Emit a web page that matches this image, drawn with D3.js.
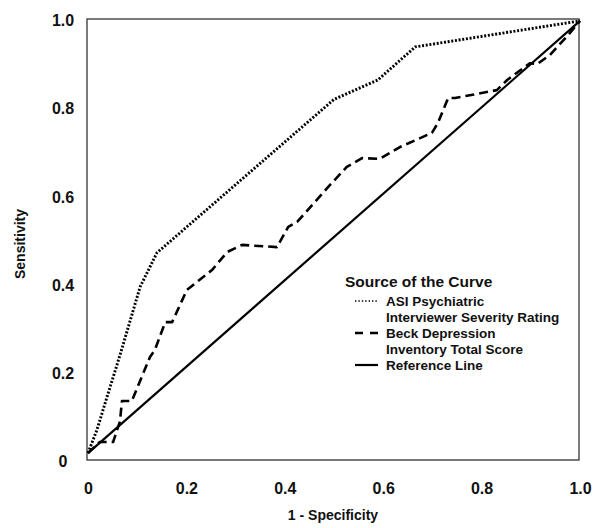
<!DOCTYPE html>
<html>
<head>
<meta charset="utf-8">
<script src="https://cdn.jsdelivr.net/npm/d3@7"></script>
<style>
  html, body { margin: 0; padding: 0; background: #fff; }
  svg text { font-family: "Liberation Sans", Arial, Helvetica, sans-serif; font-weight: bold; fill: #111; }
</style>
</head>
<body>
<svg id="chart" width="600" height="528"></svg>
<script>
// ---- data ----
const tickValues = [0, 0.2, 0.4, 0.6, 0.8, 1.0];
const tickLabels = ["0", "0.2", "0.4", "0.6", "0.8", "1.0"];

// ASI Psychiatric Interviewer Severity Rating  (1 - specificity, sensitivity)
const asiX = [0, 0.018, 0.04, 0.065, 0.106, 0.14, 0.5, 0.589, 0.665, 1.0];
const asiY = [0.018, 0.07, 0.15, 0.24, 0.395, 0.472, 0.82, 0.864, 0.939, 0.998];

// Beck Depression Inventory Total Score
const beckX = [0, 0.024, 0.051, 0.065, 0.069, 0.089, 0.126, 0.136, 0.157, 0.171, 0.201, 0.252, 0.283, 0.313, 0.384, 0.407, 0.425, 0.492, 0.526, 0.557, 0.593, 0.634, 0.699, 0.711, 0.732, 0.746, 0.831, 0.852, 0.898, 0.913, 0.939, 0.976, 1.0];
const beckY = [0.018, 0.043, 0.043, 0.09, 0.136, 0.136, 0.236, 0.252, 0.315, 0.315, 0.388, 0.433, 0.474, 0.49, 0.485, 0.531, 0.542, 0.626, 0.667, 0.687, 0.685, 0.712, 0.744, 0.766, 0.823, 0.823, 0.841, 0.864, 0.902, 0.9, 0.921, 0.966, 0.998];

// Reference line
const refX = [0, 1.0];
const refY = [0.018, 0.998];

const legendTitle = "Source of the Curve";
const legendItems = [
  { lines: ["ASI Psychiatric", "Interviewer Severity Rating"], style: "dotted" },
  { lines: ["Beck Depression", "Inventory Total Score"], style: "dashed" },
  { lines: ["Reference Line"], style: "solid" }
];
const xTitle = "1 - Specificity";
const yTitle = "Sensitivity";

// ---- drawing ----
const svg = d3.select("#chart");
const x = d3.scaleLinear().domain([0, 1]).range([88, 580]);
const y = d3.scaleLinear().domain([0, 1]).range([461, 20]);

const styles = {
  dotted: { width: 2.9, dash: "2,1.7", cap: "butt" },
  dashed: { width: 2.6, dash: "9,5", cap: "butt" },
  solid:  { width: 2.2, dash: null, cap: "butt" }
};

// frame
svg.append("rect")
  .attr("x", 87).attr("y", 19)
  .attr("width", 492).attr("height", 441)
  .attr("fill", "none").attr("stroke", "#333").attr("stroke-width", 1.3);

// axes (labels only)
const xAxis = d3.axisBottom(x).tickValues(tickValues)
  .tickFormat((d, i) => tickLabels[i]).tickSize(0).tickPadding(0);
const gx = svg.append("g").attr("transform", "translate(0,460)").call(xAxis);
gx.select(".domain").remove();
gx.selectAll("text").attr("y", 34).attr("dy", null)
  .style("font-size", "16px").style("font-family", "'Liberation Sans', Arial, sans-serif")
  .style("font-weight", "bold").attr("fill", "#111");

const yAxis = d3.axisLeft(y).tickValues(tickValues)
  .tickFormat((d, i) => tickLabels[i]).tickSize(0).tickPadding(0);
const gy = svg.append("g").attr("transform", "translate(87,0)").call(yAxis);
gy.select(".domain").remove();
gy.selectAll("text").attr("x", -24).attr("text-anchor", "middle").attr("dy", "0.36em")
  .style("font-size", "16px").style("font-family", "'Liberation Sans', Arial, sans-serif")
  .style("font-weight", "bold").attr("fill", "#111");

// axis titles
svg.append("text").attr("x", 333).attr("y", 520).attr("text-anchor", "middle")
  .style("font-size", "14px").text(xTitle);
svg.append("text").attr("transform", "translate(25,244) rotate(-90)")
  .attr("text-anchor", "middle").style("font-size", "14px").text(yTitle);

// curves
const line = d3.line().x(d => x(d[0])).y(d => y(d[1]));
function drawCurve(xs, ys, st) {
  const s = styles[st];
  const p = svg.append("path")
    .datum(xs.map((v, i) => [v, ys[i]]))
    .attr("d", line)
    .attr("fill", "none").attr("stroke", "#000")
    .attr("stroke-width", s.width).attr("stroke-linecap", s.cap)
    .attr("stroke-linejoin", "round");
  if (s.dash) p.attr("stroke-dasharray", s.dash);
}
drawCurve(refX, refY, "solid");
drawCurve(beckX, beckY, "dashed");
drawCurve(asiX, asiY, "dotted");

// legend
const lg = svg.append("g");
lg.append("text").attr("x", 345).attr("y", 287).style("font-size", "15.5px").text(legendTitle);
const legendSample = {
  dotted: { width: 1.6, dash: "1.4,2", cap: "butt" },
  dashed: { width: 2.4, dash: "8,7", cap: "butt" },
  solid:  { width: 2.2, dash: null, cap: "butt" }
};
let baseline = 306;
legendItems.forEach(item => {
  const s = legendSample[item.style];
  const l = lg.append("line")
    .attr("x1", 355).attr("x2", 378)
    .attr("y1", baseline - 5).attr("y2", baseline - 5)
    .attr("stroke", "#000").attr("stroke-width", s.width).attr("stroke-linecap", s.cap);
  if (s.dash) l.attr("stroke-dasharray", s.dash);
  item.lines.forEach(t => {
    lg.append("text").attr("x", 386).attr("y", baseline).style("font-size", "13.5px").text(t);
    baseline += 16;
  });
});
</script>
</body>
</html>
